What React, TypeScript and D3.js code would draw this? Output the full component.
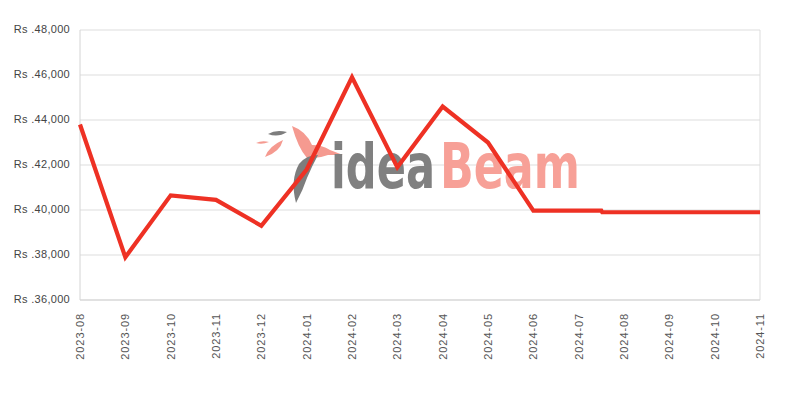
import * as d3 from 'd3';

// month labels on the x axis, one tick each
const months = [
  '2023-08', '2023-09', '2023-10', '2023-11', '2023-12', '2024-01',
  '2024-02', '2024-03', '2024-04', '2024-05', '2024-06', '2024-07',
  '2024-08', '2024-09', '2024-10', '2024-11',
];

// price points: position in months from 2023-08, and price in Rs
const pointMonth = [0, 1, 2, 3, 4, 5, 6, 7, 8, 9, 10, 11.5, 11.52, 15];
const pointPrice = [
  43800, 37900, 40650, 40450, 39300, 41800, 45900, 41900, 44600, 43000,
  39970, 39970, 39900, 39900,
];

const yTicks = [36000, 38000, 40000, 42000, 44000, 46000, 48000];

export default function App() {
  const width = 800;
  const height = 400;
  const margin = { top: 30, right: 40, bottom: 100, left: 80 };
  const innerW = width - margin.left - margin.right;
  const innerH = height - margin.top - margin.bottom;

  const x = d3.scaleLinear().domain([0, months.length - 1]).range([0, innerW]);
  const y = d3.scaleLinear().domain([36000, 48000]).range([innerH, 0]);

  const line = d3
    .line<number>()
    .x((_, i) => x(pointMonth[i]))
    .y((d) => y(d));

  const fmt = d3.format(',');

  return (
    <svg
      width={width}
      height={height}
      style={{ position: 'absolute', left: 0, top: 0, background: '#fff' }}
      fontFamily='"Liberation Sans", Arial, sans-serif'
    >
      <g transform={`translate(${margin.left},${margin.top})`}>
        {/* grid */}
        {yTicks.map((t) => (
          <line key={t} x1={0} x2={innerW} y1={y(t)} y2={y(t)} stroke='#dddddd' />
        ))}
        <line x1={0} x2={0} y1={0} y2={innerH} stroke='#d4d4d4' />
        <line x1={innerW} x2={innerW} y1={0} y2={innerH} stroke='#dddddd' />
        <line x1={0} x2={innerW} y1={innerH} y2={innerH} stroke='#d4d4d4' />

        {/* y labels */}
        {yTicks.map((t) => (
          <text
            key={t}
            x={-10}
            y={y(t)}
            textAnchor='end'
            dominantBaseline='middle'
            fontSize={11}
            letterSpacing={0.3}
            fill='#444'
          >
            {`Rs .${fmt(t)}`}
          </text>
        ))}

        {/* x labels */}
        {months.map((m, i) => (
          <text
            key={m}
            transform={`translate(${x(i) + 4},${innerH + 13}) rotate(-90)`}
            textAnchor='end'
            fontSize={11}
            letterSpacing={0.9}
            fill='#555'
          >
            {m}
          </text>
        ))}

        {/* watermark */}
        <g transform={`translate(${-margin.left},${-margin.top})`}>
          <path d='M268,134 Q276,129 287,132 Q278,138 268,134 Z' fill='#7d7d7d' />
          <path d='M256,143 Q262,140 269,142 Q262,145 256,143 Z' fill='#f59a90' />
          <path d='M265,157 Q269,146 283,140 Q280,152 265,157 Z' fill='#f59a90' />
          <path
            d='M292,126 Q306,131 312,145 Q322,145 330,150 L343,155 L328,155 Q318,159 307,158 Q298,148 292,126 Z'
            fill='#f59a90'
          />
          <path
            d='M318,155 Q306,155 299,164 Q290,180 296,203 Q303,190 307,178 Q312,166 318,155 Z'
            fill='#7d7d7d'
          />
          <text
            y={188}
            fontFamily='"DejaVu Sans", sans-serif'
            fontWeight='bold'
            fontSize={62}
          >
            <tspan x={331} textLength={104} lengthAdjust='spacingAndGlyphs' fill='#808080'>
              idea
            </tspan>
            <tspan x={440} textLength={140} lengthAdjust='spacingAndGlyphs' fill='#f7a097'>
              Beam
            </tspan>
          </text>
        </g>

        {/* price line */}
        <path
          d={line(pointPrice) ?? ''}
          fill='none'
          stroke='#ee3124'
          strokeWidth={4.2}
        />
      </g>
    </svg>
  );
}
